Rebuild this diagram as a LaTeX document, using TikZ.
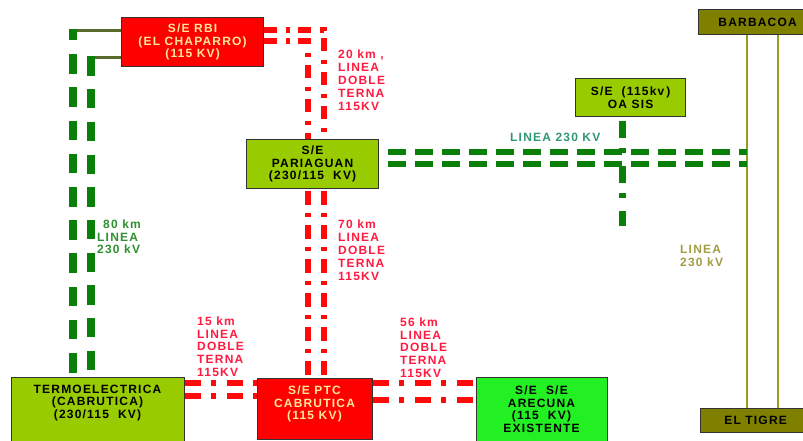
\documentclass[tikz,border=0pt]{standalone}
\usepackage{fontspec}
\setmainfont{Liberation Sans}[LetterSpace=10]
\definecolor{boxred}{HTML}{FF0000}
\definecolor{yg}{HTML}{99CC00}
\definecolor{brightgreen}{HTML}{22F022}
\definecolor{olivebox}{HTML}{808000}
\definecolor{oliveline}{HTML}{9C9A20}
\definecolor{dkolive}{HTML}{566B2C}
\definecolor{linegreen}{HTML}{0A800A}
\definecolor{linered}{HTML}{FF0A0A}
\definecolor{paletext}{HTML}{FFE699}
\definecolor{lblred}{HTML}{FF1A40}
\definecolor{lblgreen}{HTML}{2F8F2F}
\definecolor{lblteal}{HTML}{2E9970}
\definecolor{lblolive}{HTML}{A39C45}
\begin{document}
\begin{tikzpicture}[x=1pt,y=-1pt,
  box/.style={draw=black!80, line width=1.2pt, inner sep=0pt, anchor=north west, align=center,
    font=\bfseries\fontsize{12}{12.7}\selectfont},
  boxtxt/.style={inner sep=0pt, align=center, font=\bfseries\fontsize{12}{12.7}\selectfont},
  lbl/.style={inner sep=0pt, anchor=north west, align=left, font=\bfseries\fontsize{12}{12.8}\selectfont},
  greenv/.style={draw=linegreen, line width=8pt},
  greenh/.style={draw=linegreen, line width=5.5pt, dash pattern=on 18pt off 9pt},
  redv/.style={draw=linered, line width=6pt, dash pattern=on 13pt off 9pt on 4pt off 8pt},
  redh/.style={draw=linered, line width=6pt, dash pattern=on 16pt off 10pt on 5pt off 11pt},
  olivethin/.style={draw=dkolive, line width=3pt},
  oasisv/.style={draw=linegreen, line width=7pt, dash pattern=on 17pt off 10pt on 5pt off 13pt},
  barline/.style={draw=oliveline, line width=2pt}
]
\useasboundingbox (0,0) rectangle (803,441);

% boxes
\node[box, fill=boxred, text=paletext, minimum width=142pt, minimum height=49pt] (rbi) at (121,17)
  {S/E RBI\\(EL CHAPARRO)\\(115 KV)};
\node[box, fill=yg, minimum width=132pt, minimum height=49pt] (par) at (246,139)
  {S/E\\PARIAGUAN\\(230/115\ \ KV)};
\node[box, fill=boxred, text=paletext, minimum width=115pt, minimum height=61pt] (ptc) at (257,378) {};
\node[boxtxt, text=paletext] (ptctxt) at (314.5,404) {S/E PTC\\CABRUTICA\\(115 KV)};
\node[box, fill=yg, minimum width=173pt, minimum height=80pt] (termo) at (11,377) {};
\node[boxtxt, anchor=north] (termotxt) at (97.5,384.5) {TERMOELECTRICA\\(CABRUTICA)\\(230/115\ \ KV)};
\node[box, fill=brightgreen, minimum width=131pt, minimum height=80pt] (arec) at (476,377) {};
\node[boxtxt, anchor=north] (arectxt) at (541.5,385.5) {S/E\ \ S/E\\ARECUNA\\(115\ \ KV)\\EXISTENTE};
\node[box, fill=yg, minimum width=110pt, minimum height=38pt] (oasis) at (575,78)
  {S/E\ \ (115kv\,)\\OA SIS};
\node[box, fill=olivebox, minimum width=118pt, minimum height=25pt] (barb) at (698,9) {BARBACOA};
\node[box, fill=olivebox, minimum width=110pt, minimum height=24pt] (tigre) at (700,408) {EL TIGRE};

% Barbacoa - El Tigre thin lines
\draw[barline] (barb.south -| 747,0) -- (tigre.north -| 747,0);
\draw[barline] (barb.south -| 778,0) -- (tigre.north -| 778,0);

% RBI - Termoelectrica (80 km, 230 kV)
\coordinate (c1) at (73,31);
\coordinate (c2) at (91,58);
\draw[olivethin] (rbi.west |- c1) -- (c1);
\draw[olivethin] (rbi.west |- c2) -- (c2);
\draw[greenv, dash pattern=on 19.5pt off 13.7pt, dash phase=8.5pt] ([yshift=1.5pt]c1) -- (termo.north -| c1);
\draw[greenv, dash pattern=on 19.2pt off 13.5pt] ([yshift=1.5pt]c2) -- (termo.north -| c2);

% RBI - Pariaguan (20 km)
\coordinate (r1) at (324,30);
\coordinate (r2) at (308,41);
\draw[redv] (rbi.east |- r1) -- (r1) -- (par.north -| r1);
\draw[redv] (rbi.east |- r2) -- (r2) -- (par.north -| r2);

% Pariaguan - PTC (70 km)
\draw[redv, dash pattern=on 14pt off 8pt on 4pt off 8pt, dash phase=32pt] (par.south -| r1) -- (ptc.north -| r1);
\draw[redv, dash pattern=on 14pt off 8pt on 4pt off 8pt, dash phase=32pt] (par.south -| r2) -- (ptc.north -| r2);

% Termoelectrica - PTC (15 km)
\draw[redh] (termo.east |- 0,383) -- (ptc.west |- 0,383);
\draw[redh] (termo.east |- 0,396) -- (ptc.west |- 0,396);

% PTC - Arecuna (56 km)
\draw[redh] (ptc.east |- 0,383) -- (arec.west |- 0,383);
\draw[redh] (ptc.east |- 0,400) -- (arec.west |- 0,400);

% Pariaguan - Barbacoa/El Tigre line (230 kV)
\coordinate (h1) at (747,152);
\coordinate (h2) at (747,164);
\draw[greenh, dash phase=18pt] (par.east |- h1) -- (h1);
\draw[greenh, dash phase=18pt] (par.east |- h2) -- (h2);

% Oasis tap
\coordinate (oend) at (622,226);
\draw[oasisv, dash phase=41pt] (oasis.south -| oend) -- (oend);

% labels
\node[lbl, text=lblred] (l20) at (338,50) {20 km ,\\LINEA\\DOBLE\\TERNA\\115KV};
\node[lbl, text=lblred] (l70) at (338,220) {70 km\\LINEA\\DOBLE\\TERNA\\115KV};
\node[lbl, text=lblred] (l15) at (197,316.5) {15 km\\LINEA\\DOBLE\\TERNA\\115KV};
\node[lbl, text=lblred] (l56) at (400,317.5) {56 km\\LINEA\\DOBLE\\TERNA\\115KV};
\node[lbl, text=lblgreen] (l80) at (97,219.5) {\hspace{6pt}80 km\\LINEA\\230 kV};
\node[lbl, text=lblteal] (l230a) at (510,133) {LINEA 230 KV};
\node[lbl, text=lblolive] (l230b) at (680,245) {LINEA\\230 kV};
\end{tikzpicture}
\end{document}
